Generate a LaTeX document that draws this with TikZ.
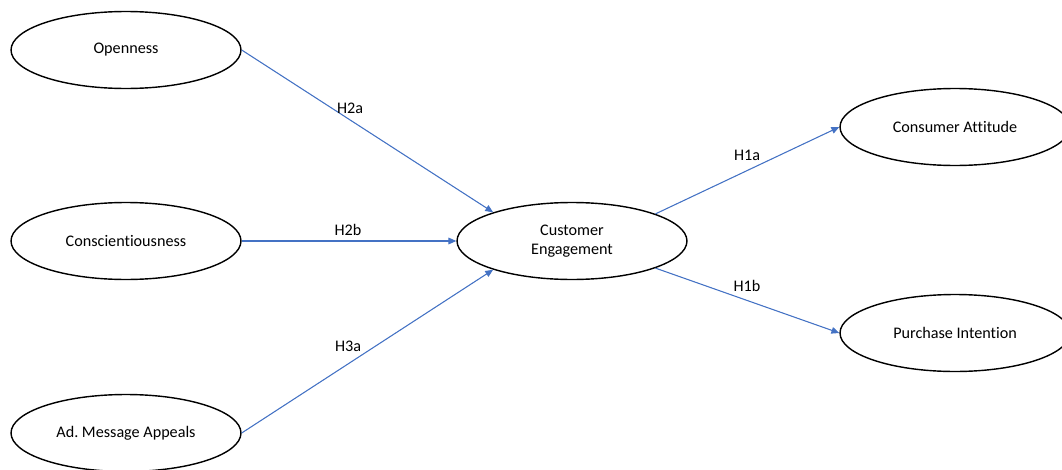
\documentclass[tikz,border=0pt]{standalone}
\usepackage{fontspec}
\setmainfont[RawFeature=-liga]{Carlito}
\usepackage{xcolor}
\usetikzlibrary{shapes.geometric,arrows.meta,positioning}

\definecolor{pathblue}{HTML}{4472C4}
\frenchspacing

\begin{document}
\begin{tikzpicture}[
    x=0.02cm, y=-0.02cm,
    font=\fontsize{9.2}{11}\selectfont,
    construct/.style={draw, ellipse, line width=0.8pt, minimum width=4.6cm, minimum height=1.54cm, inner sep=0pt, align=center},
    arrow/.style={-{Triangle[length=4.5pt,width=3.8pt]}, draw=pathblue, fill=pathblue, line width=0.6pt},
    hyp/.style={font=\fontsize{9.2}{11}\selectfont}
]
\useasboundingbox (0,0) rectangle (1062,470);

% Antecedents
\node[construct] (open) at (126,50) {Openness};
\node[construct] (consc) at (126,241) {Conscientiousness};
\node[construct] (appeal) at (126,433) {Ad. Message Appeals};

% Mediator
\node[construct] (engage) at (572,241) {Customer\\Engagement};

% Outcomes
\node[construct] (attitude) at (955,127) {Consumer Attitude};
\node[construct] (intent) at (955,333) {Purchase Intention};

% Paths
\draw[arrow] (open.east) -- (engage.160);
\draw[arrow] (consc.east) -- (engage.west);
\draw[arrow] (appeal.east) -- (engage.200);
\draw[arrow] (engage.18) -- (attitude.west);
\draw[arrow] (engage.342) -- (intent.west);

% Hypothesis labels
\node[hyp] (h2a) at (350,108) {H2a};
\node[hyp] (h2b) at (348,230) {H2b};
\node[hyp] (h3a) at (348,346) {H3a};
\node[hyp] (h1a) at (747,155) {H1a};
\node[hyp] (h1b) at (747,286) {H1b};

\end{tikzpicture}
\end{document}
